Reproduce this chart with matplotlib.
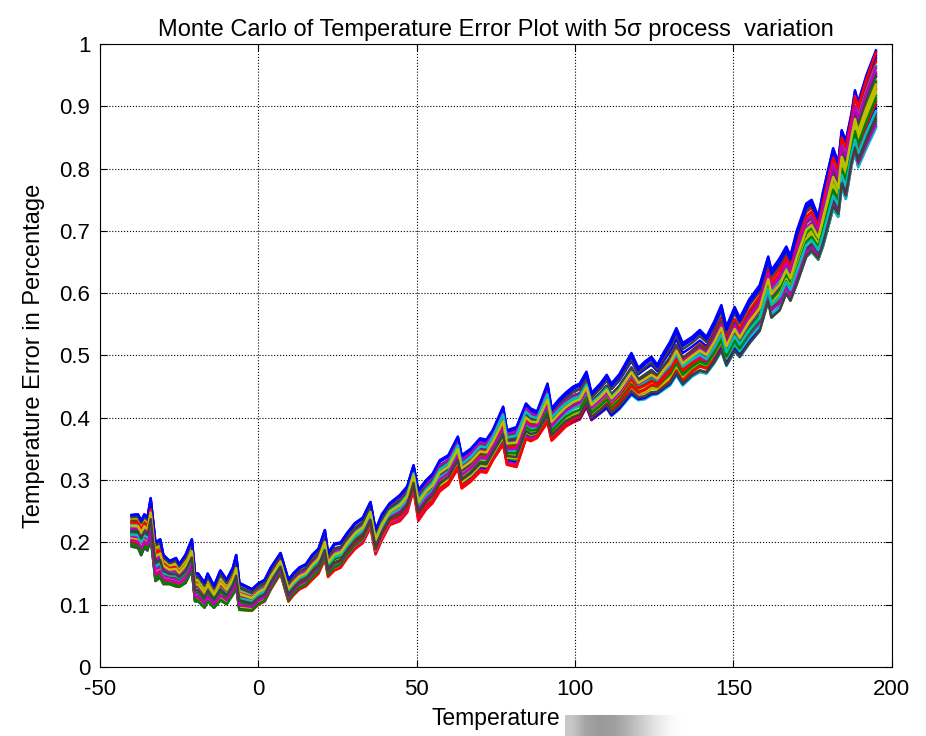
import numpy as np
import matplotlib
matplotlib.use('Agg')
import matplotlib.pyplot as plt

plt.rcParams['font.family'] = ['Liberation Sans', 'DejaVu Sans']
plt.rcParams['axes.unicode_minus'] = False

# envelope of the Monte Carlo band (temperature, top, bottom)
temp = [-40, -38, -37, -36, -35, -34, -32.5, -31, -30, -28, -26, -25, -23, -21, -20, -19,
        -17, -16, -14, -12, -10, -8, -7, -6, -4, -2, 0, 2, 4, 7, 9.5, 11, 13, 15, 17, 19,
        21, 22, 24, 26, 28, 30.5, 33, 35.4, 37, 39, 41.5, 44.7, 47, 49, 50.5, 53, 55, 57.3,
        60, 63, 64.2, 67, 70, 72, 74, 77.3, 78.5, 81.5, 84.5, 86, 88, 91.3, 92.6, 95, 97,
        99.4, 101.5, 103.6, 105.2, 108, 110, 111.5, 114, 117.8, 120, 122, 124.1, 126, 128,
        130, 132, 134, 137, 139.4, 141.5, 144, 146.2, 147.8, 150.4, 152, 155, 158.3, 161,
        162, 164.6, 166.7, 168, 170, 173, 174.7, 176.8, 178.3, 181.5, 183.1, 184.2, 185.5,
        187.3, 188.4, 189.4, 192, 195]
upper = [0.244, 0.245, 0.235, 0.245, 0.240, 0.271, 0.200, 0.205, 0.180, 0.170, 0.175, 0.165,
         0.180, 0.205, 0.150, 0.150, 0.135, 0.150, 0.130, 0.155, 0.140, 0.160, 0.180, 0.135,
         0.130, 0.125, 0.134, 0.140, 0.160, 0.183, 0.140, 0.150, 0.160, 0.165, 0.180, 0.190,
         0.220, 0.183, 0.198, 0.200, 0.215, 0.231, 0.240, 0.265, 0.220, 0.245, 0.263, 0.276,
         0.290, 0.324, 0.284, 0.300, 0.310, 0.332, 0.340, 0.370, 0.340, 0.350, 0.367, 0.365,
         0.380, 0.418, 0.380, 0.385, 0.423, 0.415, 0.410, 0.455, 0.415, 0.430, 0.440, 0.450,
         0.455, 0.474, 0.440, 0.455, 0.469, 0.455, 0.470, 0.504, 0.480, 0.490, 0.498, 0.485,
         0.505, 0.522, 0.544, 0.520, 0.530, 0.541, 0.530, 0.555, 0.581, 0.546, 0.578, 0.560,
         0.590, 0.613, 0.659, 0.637, 0.656, 0.675, 0.660, 0.700, 0.744, 0.750, 0.723, 0.763,
         0.833, 0.810, 0.862, 0.845, 0.889, 0.926, 0.907, 0.950, 0.990]
lower = [0.193, 0.190, 0.178, 0.190, 0.185, 0.205, 0.135, 0.140, 0.130, 0.130, 0.125, 0.125,
         0.130, 0.150, 0.100, 0.100, 0.090, 0.100, 0.090, 0.100, 0.095, 0.110, 0.120, 0.085,
         0.085, 0.085, 0.095, 0.100, 0.120, 0.145, 0.100, 0.110, 0.120, 0.125, 0.135, 0.145,
         0.167, 0.140, 0.150, 0.155, 0.170, 0.185, 0.195, 0.220, 0.177, 0.200, 0.225, 0.231,
         0.245, 0.281, 0.231, 0.250, 0.260, 0.279, 0.290, 0.316, 0.284, 0.295, 0.311, 0.310,
         0.330, 0.356, 0.324, 0.320, 0.364, 0.360, 0.365, 0.388, 0.359, 0.370, 0.380, 0.386,
         0.390, 0.410, 0.390, 0.400, 0.407, 0.395, 0.405, 0.426, 0.420, 0.420, 0.426, 0.430,
         0.435, 0.440, 0.455, 0.440, 0.455, 0.461, 0.460, 0.475, 0.493, 0.471, 0.493, 0.485,
         0.505, 0.525, 0.573, 0.546, 0.557, 0.586, 0.575, 0.600, 0.645, 0.655, 0.645, 0.665,
         0.726, 0.715, 0.763, 0.745, 0.800, 0.820, 0.798, 0.830, 0.865]

# position of each Monte Carlo run inside the band (0 = bottom, 1 = top)
# at the cold end, in the middle and at the hot end of the sweep
anchor_temp = [-40, 80, 195]
runs_start = [0.52, 0.08, 0.91, 0.35, 0.67, 0.22, 0.80, 0.45, 0.13, 0.78, 0.60, 0.30, 0.86, 0.03,
              1.00, 0.40, 0.18, 0.95, 0.56, 0.26, 0.83, 0.48, 0.11, 0.74, 0.63, 0.33, 0.89, 0.00,
              0.97, 0.43, 0.16, 0.70, 0.58, 0.24, 0.93, 0.99, 0.06, 0.76, 0.38, 0.20, 0.65, 0.50]
runs_mid = [0.70, 0.25, 0.15, 0.82, 0.40, 0.05, 0.60, 0.92, 0.33, 0.48, 0.10, 0.75, 0.20, 0.88,
            0.97, 0.55, 0.02, 0.37, 0.66, 0.28, 0.85, 0.12, 0.58, 0.44, 0.78, 0.08, 0.30, 0.64,
            0.95, 0.18, 0.52, 0.42, 0.90, 0.22, 0.72, 1.00, 0.35, 0.00, 0.80, 0.46, 0.62, 0.26]
runs_end = [0.30, 0.55, 0.72, 0.10, 0.88, 0.45, 0.02, 0.66, 0.35, 0.95, 0.20, 0.58, 0.40, 0.27,
            0.98, 0.08, 0.50, 0.76, 0.15, 0.62, 0.90, 0.25, 0.42, 0.85, 0.00, 0.70, 0.52, 0.18,
            0.93, 0.60, 0.33, 0.80, 0.05, 0.47, 0.68, 1.00, 0.38, 0.97, 0.22, 0.78, 0.56, 0.12]

matlab_colors = [(0, 0, 1), (0, 0.5, 0), (1, 0, 0), (0, 0.75, 0.75),
                 (0.75, 0, 0.75), (0.75, 0.75, 0), (0.25, 0.25, 0.25)]

t = np.array(temp)
up = np.array(upper)
lo = np.array(lower)

fig = plt.figure(figsize=(9.26, 7.36), dpi=100)
ax = fig.add_axes([0.108, 0.094, 0.855, 0.846])

for i in range(len(runs_start)):
    f = np.interp(t, anchor_temp, [runs_start[i], runs_mid[i], runs_end[i]])
    ax.plot(t, lo + f * (up - lo), color=matlab_colors[i % 7], lw=1.8)

ax.set_xlim(-50, 200)
ax.set_ylim(0, 1)
ax.set_xticks(np.arange(-50, 201, 50))
ax.set_yticks(np.arange(0, 1.01, 0.1))
ax.set_yticklabels(['0', '0.1', '0.2', '0.3', '0.4', '0.5', '0.6', '0.7', '0.8', '0.9', '1'])
ax.tick_params(direction='in', length=5, width=0.8, top=True, right=True, labelsize=16)
ax.tick_params(axis='x', pad=9)
ax.tick_params(axis='y', pad=7)
ax.grid(True, color='black', linestyle=':', linewidth=0.8)
for s in ax.spines.values():
    s.set_linewidth(0.8)

ax.set_title('Monte Carlo of Temperature Error Plot with 5σ process  variation', fontsize=17, pad=6)
ax.set_xlabel('Temperature', fontsize=16.5, labelpad=5)
ax.set_ylabel('Temperature Error in Percentage', fontsize=17, labelpad=10)

# grey gradient patch next to the x label
shade = [0.78, 0.64, 0.60, 0.62, 0.70, 0.80, 0.90, 0.97, 1.0]
gax = fig.add_axes([0.610, 0.0, 0.135, 0.029])
gax.imshow(np.array(shade).reshape(1, -1), cmap='gray', vmin=0, vmax=1,
           aspect='auto', interpolation='bilinear', extent=[0, 1, 0, 1])
gax.axis('off')

fig.savefig('out.png', dpi=100)
